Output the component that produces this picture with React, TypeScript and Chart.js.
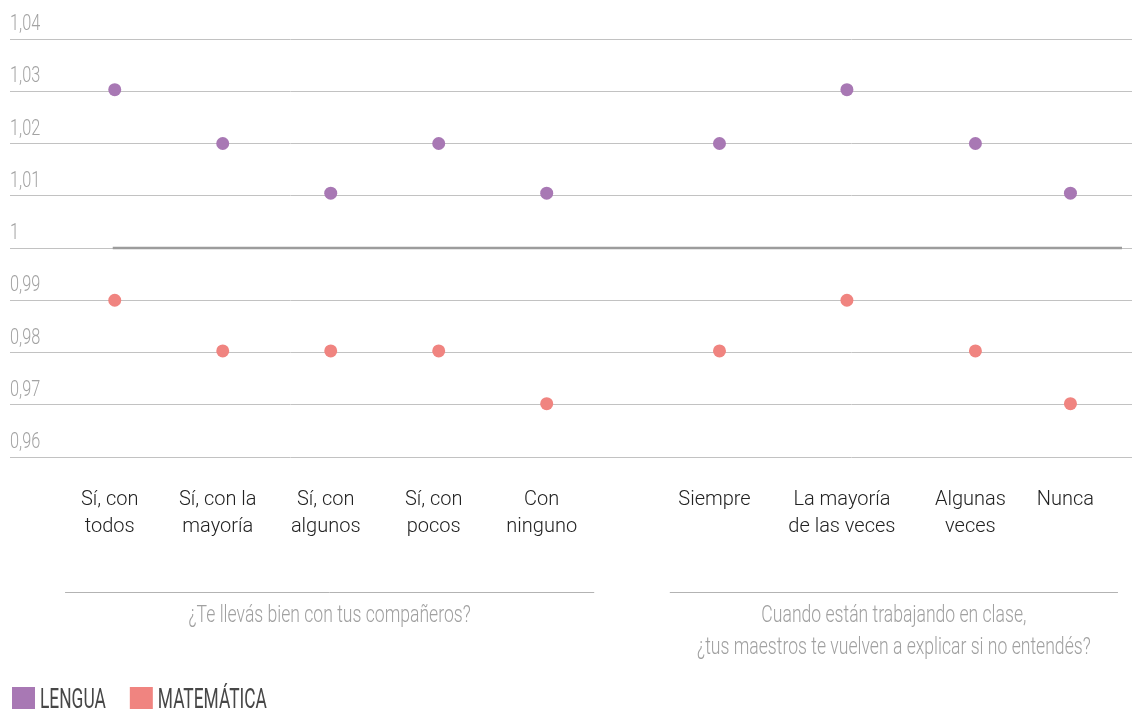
import React, { useEffect, useRef } from "react";
import { Chart, registerables } from "chart.js";

Chart.register(...registerables);

// ---------- data ----------
const categoryLabels: string[][] = [
  ["Sí, con", "todos"],
  ["Sí, con la", "mayoría"],
  ["Sí, con", "algunos"],
  ["Sí, con", "pocos"],
  ["Con", "ninguno"],
  ["Siempre"],
  ["La mayoría", "de las veces"],
  ["Algunas", "veces"],
  ["Nunca"],
];
// slot of each category along the horizontal axis (category units)
const categorySlots = [1, 2, 3, 4, 5, 6.6, 7.78, 8.97, 9.85];
const lenguaValues = [1.0303, 1.02, 1.0105, 1.02, 1.0105, 1.02, 1.0303, 1.02, 1.0105];
const matematicaValues = [0.99, 0.9803, 0.9803, 0.9803, 0.9702, 0.9803, 0.99, 0.9803, 0.9702];
const groupTitles: string[][] = [
  ["¿Te llevás bien con tus compañeros?"],
  ["Cuando están trabajando en clase,", "¿tus maestros te vuelven a explicar si no entendés?"],
];
const groupMembers: number[][] = [
  [0, 1, 2, 3, 4],
  [5, 6, 7, 8],
];
const yTickValues = [0.96, 0.97, 0.98, 0.99, 1, 1.01, 1.02, 1.03, 1.04];
const yTickLabels = ["0,96", "0,97", "0,98", "0,99", "1", "1,01", "1,02", "1,03", "1,04"];
const seriesNames = ["LENGUA", "MATEMÁTICA"];
const referenceValue = 1;

// ---------- styles ----------
const COLORS = ["#a878b4", "#f08480"];
const CONDENSED = 0.74;
const TITLE_CONDENSED = 0.765;

function condensedText(
  ctx: CanvasRenderingContext2D,
  text: string,
  x: number,
  y: number,
  align: CanvasTextAlign,
  sx: number
) {
  ctx.save();
  ctx.translate(x, y);
  ctx.scale(sx, 1);
  ctx.textAlign = align;
  ctx.textBaseline = "alphabetic";
  ctx.fillText(text, 0, 0);
  ctx.restore();
}

const decorPlugin = {
  id: "decor",
  beforeDatasetsDraw(chart: any) {
    const { ctx, chartArea, scales } = chart;
    const xs = scales.x;
    const ys = scales.y;
    const yRef = ys.getPixelForValue(referenceValue);
    ctx.save();
    ctx.strokeStyle = "#9c9c9c";
    ctx.lineWidth = 2.5;
    ctx.beginPath();
    ctx.moveTo(xs.getPixelForValue(categorySlots[0]) - 2, yRef);
    ctx.lineTo(chartArea.right - 10, yRef);
    ctx.stroke();
    ctx.restore();
  },
  afterDraw(chart: any) {
    const { ctx, chartArea, scales } = chart;
    const xs = scales.x;
    const ys = scales.y;
    ctx.save();

    // y tick labels above grid lines
    ctx.fillStyle = "#a3a3a3";
    ctx.font = "300 22px Roboto";
    yTickValues.forEach((v, i) => {
      condensedText(ctx, yTickLabels[i], chartArea.left, ys.getPixelForValue(v) - 9, "left", CONDENSED);
    });

    // category labels
    ctx.fillStyle = "#222222";
    ctx.font = "300 20px Roboto";
    ctx.textAlign = "center";
    ctx.textBaseline = "alphabetic";
    categoryLabels.forEach((lines, i) => {
      const x = xs.getPixelForValue(categorySlots[i]) - 5;
      lines.forEach((line, j) => {
        ctx.fillText(line, x, chartArea.bottom + 48 + j * 27);
      });
    });

    // group separators and titles
    groupMembers.forEach((members, g) => {
      const x0 = xs.getPixelForValue(categorySlots[members[0]] - 0.46);
      const x1 = xs.getPixelForValue(categorySlots[members[members.length - 1]] + 0.44);
      const yLine = chartArea.bottom + 135.5;
      ctx.strokeStyle = "#b3b3b3";
      ctx.lineWidth = 1;
      ctx.beginPath();
      ctx.moveTo(x0, yLine);
      ctx.lineTo(x1, yLine);
      ctx.stroke();
      ctx.fillStyle = "#a0a0a0";
      ctx.font = "300 23px Roboto";
      groupTitles[g].forEach((line, j) => {
        condensedText(ctx, line, (x0 + x1) / 2, chartArea.bottom + 165 + j * 32, "center", TITLE_CONDENSED);
      });
    });

    // legend
    const h = chart.height;
    let lx = 12;
    seriesNames.forEach((name, i) => {
      ctx.fillStyle = COLORS[i];
      ctx.fillRect(lx, h - 22, 23, 22);
      ctx.fillStyle = "#474747";
      ctx.font = "28px Roboto";
      ctx.textAlign = "left";
      ctx.save();
      ctx.translate(lx + 28, h - 1);
      ctx.scale(0.62, 1);
      ctx.fillText(name, 0, 0);
      const w = ctx.measureText(name).width * 0.62;
      ctx.restore();
      lx += 28 + w + 24;
    });

    ctx.restore();
  },
};

export default function App() {
  const canvasRef = useRef<HTMLCanvasElement | null>(null);

  useEffect(() => {
    if (!canvasRef.current) return;
    const mk = (vals: number[]) => categorySlots.map((x, i) => ({ x, y: vals[i] }));
    const chart = new Chart(canvasRef.current, {
      type: "scatter",
      data: {
        datasets: [
          {
            label: seriesNames[0],
            data: mk(lenguaValues),
            backgroundColor: COLORS[0],
            borderWidth: 0,
            pointRadius: 6.5,
          },
          {
            label: seriesNames[1],
            data: mk(matematicaValues),
            backgroundColor: COLORS[1],
            borderWidth: 0,
            pointRadius: 6.5,
          },
        ],
      },
      options: {
        animation: false,
        responsive: false,
        maintainAspectRatio: false,
        layout: { autoPadding: false, padding: { left: 10, top: 39, right: 0, bottom: 252 } },
        plugins: {
          legend: { display: false },
          tooltip: { enabled: false },
        },
        scales: {
          x: { type: "linear", min: 0.03, max: 10.42, display: false },
          y: {
            min: 0.96,
            max: 1.04,
            afterBuildTicks: (scale: any) => {
              scale.ticks = yTickValues.map((v) => ({ value: v }));
            },
            ticks: { display: false },
            grid: { color: "#c2c2c2", lineWidth: 1, drawTicks: false },
            border: { display: false },
          },
        },
      },
      plugins: [decorPlugin],
    });
    return () => chart.destroy();
  }, []);

  return (
    <div style={{ position: "fixed", left: 0, top: 0, width: 1132, height: 709, overflow: "hidden" }}>
      <canvas ref={canvasRef} width={1132} height={709} style={{ display: "block", width: 1132, height: 709 }} />
    </div>
  );
}
